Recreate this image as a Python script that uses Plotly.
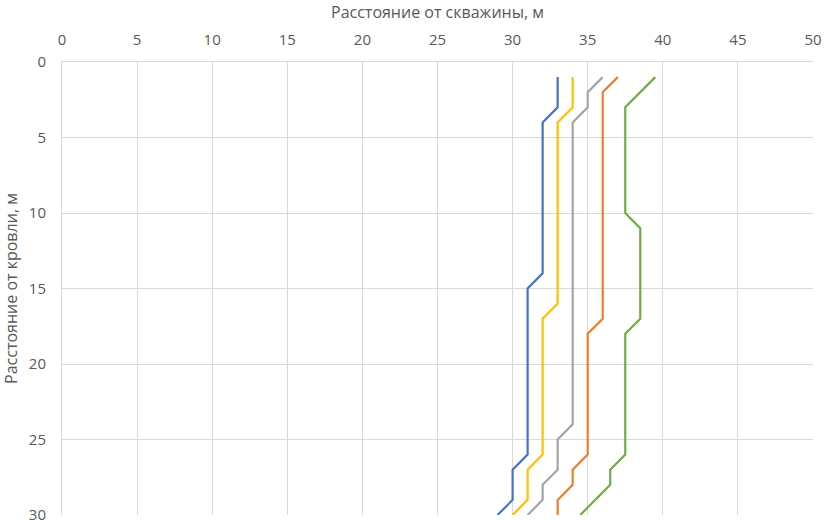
import plotly.graph_objects as go

# depth (m from roof) and distance from well (m) for each series
depth_blue = [1, 3, 4, 14, 15, 26, 27, 29, 30]
dist_blue = [33, 33, 32, 32, 31, 31, 30, 30, 29]

depth_yellow = [1, 3, 4, 16, 17, 26, 27, 29, 30]
dist_yellow = [34, 34, 33, 33, 32, 32, 31, 31, 30]

depth_gray = [1, 2, 3, 4, 24, 25, 27, 28, 29, 30]
dist_gray = [36, 35, 35, 34, 34, 33, 33, 32, 32, 31]

depth_orange = [1, 2, 17, 18, 26, 27, 28, 29, 30]
dist_orange = [37, 36, 36, 35, 35, 34, 34, 33, 33]

depth_green = [1, 3, 10, 11, 17, 18, 26, 27, 28, 30]
dist_green = [39.5, 37.5, 37.5, 38.5, 38.5, 37.5, 37.5, 36.5, 36.5, 34.5]

series = [
    (dist_blue, depth_blue, "#4472C4"),
    (dist_yellow, depth_yellow, "#FFC000"),
    (dist_gray, depth_gray, "#A5A5A5"),
    (dist_orange, depth_orange, "#ED7D31"),
    (dist_green, depth_green, "#70AD47"),
]

x_ticks = [0, 5, 10, 15, 20, 25, 30, 35, 40, 45, 50]
y_ticks = [0, 5, 10, 15, 20, 25, 30]

fig = go.Figure()
for xs, ys, col in series:
    fig.add_trace(go.Scatter(x=xs, y=ys, mode="lines",
                             line=dict(color=col, width=2.2), showlegend=False))

font_family = "Open Sans, Liberation Sans, sans-serif"
fig.update_layout(
    width=827, height=520,
    margin=dict(l=62, r=14, t=62, b=5),
    paper_bgcolor="white", plot_bgcolor="white",
    font=dict(family=font_family, size=15, color="#595959"),
    xaxis=dict(
        side="top", range=[0, 50], tickvals=x_ticks, ticktext=[str(v) for v in x_ticks],
        showgrid=True, gridcolor="#D9D9D9", gridwidth=1,
        showline=True, linecolor="#D9D9D9", linewidth=1,
        zeroline=False, ticks="", ticklabelstandoff=10, automargin=False,
        title=dict(text="Расстояние от скважины, м", font=dict(size=16, color="#595959"), standoff=6),
    ),
    yaxis=dict(
        range=[30, 0], tickvals=y_ticks, ticktext=[str(v) for v in y_ticks],
        showgrid=True, gridcolor="#D9D9D9", gridwidth=1,
        showline=True, linecolor="#D9D9D9", linewidth=1,
        zeroline=False, ticks="", ticklabelstandoff=12, automargin=False,
        ticklabeloverflow="allow",
        title=dict(text="Расстояние от кровли, м", font=dict(size=16, color="#595959"), standoff=8),
    ),
)

fig.write_html("out.html", config={"displayModeBar": False},
               post_script="document.body.style.margin='0';document.body.style.overflow='hidden';")
